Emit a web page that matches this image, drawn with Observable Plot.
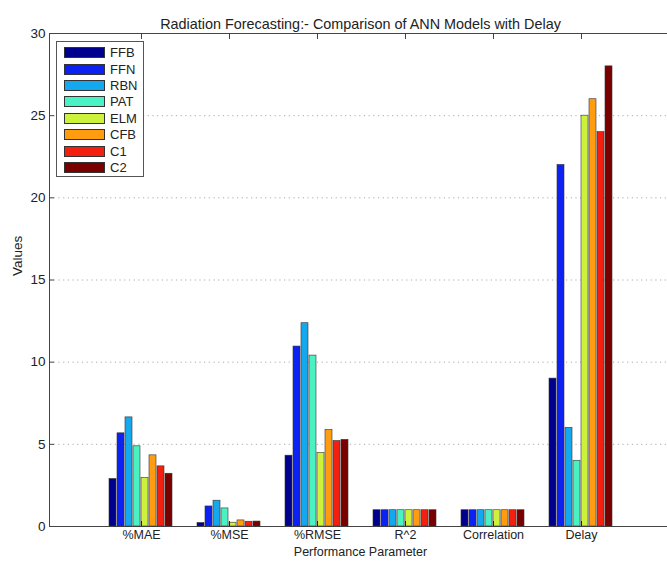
<!DOCTYPE html>
<html>
<head>
<meta charset="utf-8">
<script src="https://cdn.jsdelivr.net/npm/d3@7"></script>
<script src="https://cdn.jsdelivr.net/npm/@observablehq/plot@0.6"></script>
<style>
  html, body { margin: 0; padding: 0; background: #fff; overflow: hidden; }
  #wrap { position: relative; width: 667px; height: 561px; font-family: "Liberation Sans", Arial, sans-serif; }
  #wrap svg { position: absolute; left: 0; top: 0; }
  #legend { position: absolute; left: 56px; top: 41px; width: 88px; height: 136px; border: 1px solid #555; background: #fff; box-sizing: border-box; }
  .lrow { position: absolute; left: 7px; height: 12px; display: flex; align-items: center; font-size: 13px; color: #222; }
  .lsw { width: 41px; height: 11px; border: 1px solid #333; box-sizing: border-box; margin-right: 5px; }
</style>
</head>
<body>
<div id="wrap"></div>
<script>
const categories = ["%MAE", "%MSE", "%RMSE", "R^2", "Correlation", "Delay"];
const models = ["FFB", "FFN", "RBN", "PAT", "ELM", "CFB", "C1", "C2"];
const colors = ["#00008f", "#0b22f2", "#14a8ee", "#48f2c2", "#ccf23c", "#ff9c10", "#f3200f", "#7a0000"];

const valFFB = [2.89, 0.21, 4.31, 0.99, 0.99, 9];
const valFFN = [5.67, 1.22, 10.95, 0.99, 0.99, 22];
const valRBN = [6.64, 1.57, 12.37, 0.99, 0.99, 6];
const valPAT = [4.88, 1.10, 10.40, 0.99, 0.99, 4];
const valELM = [2.95, 0.23, 4.47, 0.99, 0.99, 25];
const valCFB = [4.33, 0.37, 5.87, 0.99, 0.99, 26];
const valC1  = [3.66, 0.29, 5.20, 0.99, 0.99, 24];
const valC2  = [3.21, 0.30, 5.27, 0.99, 0.99, 28];

const yTicks = [0, 5, 10, 15, 20, 25, 30];
const gridTicks = [5, 10, 15, 20, 25];

const series = [valFFB, valFFN, valRBN, valPAT, valELM, valCFB, valC1, valC2];
const rows = [];
categories.forEach((c, i) => models.forEach((m, j) => rows.push({category: c, model: m, value: series[j][i]})));

const font = "'Liberation Sans', Arial, sans-serif";
const dims = {width: 667, height: 561, marginLeft: 49, marginRight: 0, marginTop: 33, marginBottom: 35};

// Background layer: grid, frame, y axis, titles
const back = Plot.plot({
  ...dims,
  style: {fontFamily: font, fontSize: "13.5px", color: "#222", background: "#fff"},
  y: {domain: [0, 30], label: null},
  marks: [
    Plot.ruleY(gridTicks, {stroke: "#aaa", strokeDasharray: "1.2,3.5", strokeWidth: 1}),
    Plot.frame({stroke: "#444", insetRight: -3}),
    Plot.axisY(yTicks, {tickSize: 0, tickPadding: 4, label: null, fontSize: 13.5}),
    Plot.axisY(yTicks, {tickSize: 5, dx: 5, tickFormat: () => "", label: null, stroke: "#444"}),
    Plot.text(["Values"], {frameAnchor: "left", dx: -32, dy: -4, rotate: -90, fontSize: 13.5, fill: "#222"}),
    Plot.text(["Performance Parameter"], {frameAnchor: "bottom", dy: 29, dx: 2, fontSize: 12.5, fill: "#222"}),
    Plot.text(["Radiation Forecasting:- Comparison of ANN Models with Delay"], {frameAnchor: "top", dy: -15, dx: 2, fontSize: 14.4, fill: "#222"})
  ]
});

// Foreground layer: grouped bars and category axis
const front = Plot.plot({
  ...dims,
  style: {fontFamily: font, fontSize: "12.5px", color: "#222", background: "transparent"},
  fx: {domain: categories, paddingInner: 0.21, paddingOuter: 0.577, align: 0.524, label: null},
  x: {domain: models, padding: 0.08, axis: null},
  y: {domain: [0, 30], axis: null},
  color: {domain: models, range: colors},
  marks: [
    Plot.barY(rows, {fx: "category", x: "model", y: "value", fill: "model", stroke: "#333", strokeWidth: 0.6}),
    Plot.axisFx({anchor: "bottom", tickSize: 0, tickPadding: 4, label: null, fontSize: 12.5}),
    Plot.axisFx({anchor: "bottom", tickSize: 5, dy: -5, tickFormat: () => "", label: null, stroke: "#222"}),
    Plot.axisFx({anchor: "top", tickSize: 5, dy: 5, tickFormat: () => "", label: null, stroke: "#444"})
  ]
});

const wrap = document.getElementById("wrap");
wrap.appendChild(back);
wrap.appendChild(front);

const legend = d3.select(wrap).append("div").attr("id", "legend");
models.forEach((m, i) => {
  const row = legend.append("div").attr("class", "lrow").style("top", (4.7 + 16.4 * i) + "px");
  row.append("div").attr("class", "lsw").style("background", colors[i]);
  row.append("span").text(m);
});
</script>
</body>
</html>
